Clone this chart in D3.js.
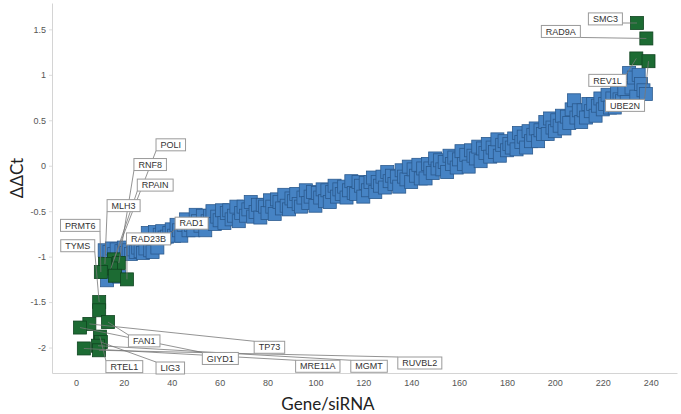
<!DOCTYPE html>
<html>
<head>
<meta charset="utf-8">
<script src="https://d3js.org/d3.v7.min.js"></script>
<style>
  body { margin: 0; background: #fff; }
  .tick text { font: 9px "Liberation Sans", Arial, sans-serif; fill: #555; }
  .tick line { stroke: #ddd; }
  .domain { stroke: #d4d4d4; }
</style>
</head>
<body>
<svg width="681" height="414"></svg>
<script>
// ranked knockdown effect for every gene/siRNA; blue = not significant
var firstRank = 12;
var blueVal = [
  -0.93, -1.26, -0.95, -0.91, -0.97, -0.92, -1.22, -0.94, -0.90, -0.96,
  -0.93, -0.97, -0.92, -0.95, -0.90, -0.94, -0.96, -0.91, -0.74, -0.93,
  -0.95, -0.73, -0.90, -0.76, -0.72, -0.79, -0.78, -0.74, -0.70, -0.77,
  -0.65, -0.71, -0.77, -0.65, -0.59, -0.71, -0.65, -0.71, -0.54, -0.61,
  -0.66, -0.55, -0.71, -0.61, -0.55, -0.50, -0.64, -0.56, -0.60, -0.49,
  -0.63, -0.52, -0.49, -0.59, -0.55, -0.45, -0.61, -0.52, -0.45, -0.55,
  -0.48, -0.40, -0.56, -0.51, -0.43, -0.57, -0.43, -0.45, -0.52, -0.38,
  -0.45, -0.53, -0.37, -0.40, -0.47, -0.32, -0.44, -0.48, -0.36, -0.39,
  -0.31, -0.42, -0.45, -0.35, -0.27, -0.41, -0.34, -0.29, -0.44, -0.30,
  -0.35, -0.26, -0.39, -0.27, -0.40, -0.29, -0.22, -0.34, -0.26, -0.31,
  -0.23, -0.35, -0.27, -0.17, -0.30, -0.31, -0.18, -0.22, -0.34, -0.19,
  -0.27, -0.18, -0.13, -0.29, -0.18, -0.22, -0.12, -0.24, -0.07, -0.17,
  -0.11, -0.20, -0.12, -0.23, -0.05, -0.12, -0.15, -0.01, -0.18, -0.04,
  -0.11, 0.01, -0.14, -0.03, -0.14, 0.02, -0.03, -0.08, 0.08, -0.03,
  0.06, -0.04, 0.04, -0.07, 0.11, 0.02, 0.09, -0.02, 0.07, 0.16,
  0.02, 0.12, -0.01, 0.17, 0.11, 0.08, 0.21, 0.05, 0.19, 0.14,
  0.24, 0.10, 0.20, 0.15, 0.29, 0.11, 0.23, 0.27, 0.17, 0.24,
  0.20, 0.30, 0.18, 0.36, 0.26, 0.32, 0.20, 0.38, 0.27, 0.34,
  0.41, 0.27, 0.39, 0.35, 0.48, 0.35, 0.52, 0.42, 0.38, 0.50,
  0.44, 0.55, 0.41, 0.54, 0.47, 0.62, 0.72, 0.53, 0.61, 0.48,
  0.61, 0.53, 0.68, 0.60, 0.68, 0.55, 0.66, 0.74, 0.62, 0.68,
  0.78, 0.64, 0.74, 0.64, 0.80, 0.73, 0.71, 0.84, 0.70, 1.02,
  0.86, 0.97, 0.76, 1.00, 0.90, 0.83, 0.79
];

// significant hits (green), "" = unlabeled
var hitGene = ["SMC3", "RAD9A", "REV1L", "UBE2N", "POLI", "RNF8", "RPAIN", "MLH3", "PRMT6", "",
               "RAD23B", "TYMS", "", "FAN1", "TP73", "GIYD1", "RTEL1", "LIG3", "MGMT", "MRE11A", "RUVBL2"];
var hitRank = [234.3, 238.2, 234.0, 239.1, 15.9, 17.9, 14.6, 12.1, 10.4, 16.3,
               21.3, 9.7, 9.7, 13.4, 5.6, 1.7, 10.0, 10.4, 9.2, 3.3, 9.6];
var hitVal  = [1.57, 1.40, 1.18, 1.15, -1.03, -1.07, -1.13, -1.08, -1.17, -1.21,
               -1.25, -1.50, -1.59, -1.72, -1.74, -1.78, -1.88, -1.94, -1.98, -2.01, -2.03];

// one labelled non-hit
var extraGene = "RAD1", extraRank = 38;

// where the callout boxes sit (data units, box centre)
var labelAt = {
  SMC3: [221.1, 1.615], RAD9A: [202.5, 1.477], REV1L: [222, 0.939], UBE2N: [229.3, 0.664],
  POLI: [39.6, 0.23], RNF8: [31.0, 0.013], RPAIN: [33.1, -0.213], MLH3: [19.9, -0.439],
  PRMT6: [1.8, -0.656], TYMS: [0.75, -0.88], RAD23B: [30.3, -0.805], RAD1: [48.3, -0.632],
  FAN1: [28.5, -1.927], TP73: [80.8, -1.997], GIYD1: [60.3, -2.12], RTEL1: [20.2, -2.21],
  LIG3: [39.4, -2.225], MRE11A: [101, -2.206], MGMT: [122.4, -2.206], RUVBL2: [143.6, -2.17]
};

var xTicks = d3.range(0, 241, 20);
var yTicks = [-2, -1.5, -1, -0.5, 0, 0.5, 1, 1.5];

var svg = d3.select("svg");
var x = d3.scaleLinear().domain([-10, 251]).range([52, 677]);
var y = d3.scaleLinear().domain([-2.28, 1.79]).range([373, 3]);
var sz = 13;

svg.append("g")
    .attr("transform", "translate(0,373)")
    .call(d3.axisBottom(x).tickValues(xTicks).tickSize(0).tickPadding(7).tickFormat(String));
svg.append("g")
    .attr("transform", "translate(52,0)")
    .call(d3.axisLeft(y).tickValues(yTicks).tickSize(3).tickSizeOuter(0).tickPadding(3).tickFormat(String));

svg.append("text")
    .attr("transform", "translate(23,178) rotate(-90)")
    .attr("text-anchor", "middle")
    .style("font", "17px Lato, sans-serif").style("fill", "#222")
    .text("ΔΔCt");
svg.append("text")
    .attr("x", 328).attr("y", 410)
    .attr("text-anchor", "middle")
    .style("font", "17px Lato, sans-serif").style("fill", "#222")
    .text("Gene/siRNA");

var blue = blueVal.map(function(v, i) { return { rank: firstRank + i, val: v }; });
var hits = hitGene.map(function(g, i) { return { gene: g, rank: hitRank[i], val: hitVal[i] }; });

svg.append("g").selectAll("rect")
    .data(blue)
  .enter().append("rect")
    .attr("x", function(d) { return x(d.rank) - sz / 2; })
    .attr("y", function(d) { return y(d.val) - sz / 2; })
    .attr("width", sz).attr("height", sz)
    .style("fill", "#4683c4").style("stroke", "#2b5a8e").style("stroke-width", 0.8);

svg.append("g").selectAll("rect")
    .data(hits)
  .enter().append("rect")
    .attr("x", function(d) { return x(d.rank) - sz / 2; })
    .attr("y", function(d) { return y(d.val) - sz / 2; })
    .attr("width", sz).attr("height", sz)
    .style("fill", "#1c6b33").style("stroke", "#0f4420").style("stroke-width", 0.8);

// callouts
var labelled = hits.filter(function(d) { return d.gene; });
labelled.push({ gene: extraGene, rank: extraRank, val: blueVal[extraRank - firstRank] });

var lineG = svg.append("g"), boxG = svg.append("g");
labelled.forEach(function(d) {
  var c = labelAt[d.gene];
  var cx = x(c[0]), cy = y(c[1]);
  var g = boxG.append("g");
  var t = g.append("text")
      .attr("x", cx).attr("y", cy + 3.2)
      .attr("text-anchor", "middle")
      .style("font", "9px 'Liberation Sans', Arial, sans-serif").style("fill", "#333")
      .text(d.gene);
  var w = t.node().getComputedTextLength() + 9, h = 12;
  g.insert("rect", "text")
      .attr("x", cx - w / 2).attr("y", cy - h / 2)
      .attr("width", w).attr("height", h)
      .style("fill", "#fff").style("stroke", "#9a9a9a").style("stroke-width", 1);
  var px = x(d.rank), py = y(d.val);
  var ex = Math.max(cx - w / 2, Math.min(cx + w / 2, px));
  var ey = Math.max(cy - h / 2, Math.min(cy + h / 2, py));
  lineG.append("line")
      .attr("x1", px).attr("y1", py).attr("x2", ex).attr("y2", ey)
      .style("stroke", "#777").style("stroke-width", 0.8);
});
</script>
</body>
</html>
